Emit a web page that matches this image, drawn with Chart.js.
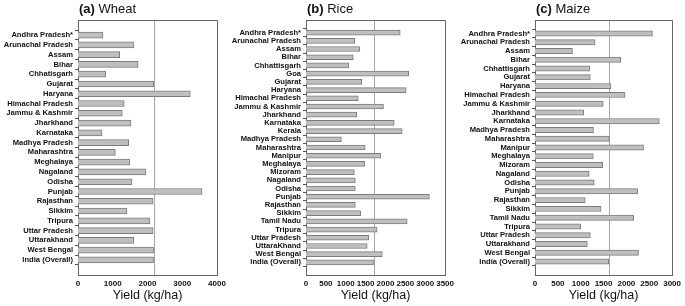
<!DOCTYPE html>
<html>
<head>
<meta charset="utf-8">
<script src="https://cdn.jsdelivr.net/npm/chart.js@4.4.0/dist/chart.umd.min.js"></script>
<style>
  body { margin: 0; background: #ffffff; }
  #wrap { position: relative; width: 685px; height: 306px; }
  canvas { position: absolute; top: 0; }
</style>
</head>
<body>
<div id="wrap">
  <canvas id="wheat" style="left:0px"></canvas>
  <canvas id="rice" style="left:226px"></canvas>
  <canvas id="maize" style="left:455px"></canvas>
</div>
<script>
const wheatStates = ['Andhra Pradesh*', 'Arunachal Pradesh', 'Assam', 'Bihar', 'Chhatisgarh', 'Gujarat',
  'Haryana', 'Himachal Pradesh', 'Jammu & Kashmir', 'Jharkhand', 'Karnataka', 'Madhya Pradesh',
  'Maharashtra', 'Meghalaya', 'Nagaland', 'Odisha', 'Punjab', 'Rajasthan', 'Sikkim', 'Tripura',
  'Uttar Pradesh', 'Uttarakhand', 'West Bengal', 'India (Overall)'];
const wheatYield = [720, 1610, 1200, 1730, 795, 2180, 3230, 1330, 1275, 1525, 690, 1460,
  1075, 1495, 1955, 1555, 3570, 2160, 1410, 2070, 2160, 1610, 2185, 2175];

const riceStates = ['Andhra Pradesh*', 'Arunachal Pradesh', 'Assam', 'Bihar', 'Chhattisgarh', 'Goa',
  'Gujarat', 'Haryana', 'Himachal Pradesh', 'Jammu & Kashmir', 'Jharkhand', 'Karnataka', 'Kerala',
  'Madhya Pradesh', 'Maharashtra', 'Manipur', 'Meghalaya', 'Mizoram', 'Nagaland', 'Odisha', 'Punjab',
  'Rajasthan', 'Sikkim', 'Tamil Nadu', 'Tripura', 'Uttar Pradesh', 'UttaraKhand', 'West Bengal',
  'India (Overall)'];
const riceYield = [2370, 1225, 1355, 1190, 1080, 2585, 1405, 2520, 1315, 1950, 1280, 2220, 2420,
  890, 1490, 1885, 1475, 1215, 1240, 1240, 3105, 1240, 1380, 2545, 1790, 1580, 1540, 1920, 1700];

const maizeStates = ['Andhra Pradesh*', 'Arunachal Pradesh', 'Assam', 'Bihar', 'Chhattisgarh', 'Gujarat',
  'Haryana', 'Himachal Pradesh', 'Jammu & Kashmir', 'Jharkhand', 'Karnataka', 'Madhya Pradesh',
  'Maharashtra', 'Manipur', 'Meghalaya', 'Mizoram', 'Nagaland', 'Odisha', 'Punjab', 'Rajasthan',
  'Sikkim', 'Tamil Nadu', 'Tripura', 'Uttar Pradesh', 'Uttarakhand', 'West Bengal', 'India (Overall)'];
const maizeYield = [2570, 1315, 820, 1875, 1200, 1210, 1660, 1970, 1495, 1065, 2720, 1280,
  1625, 2375, 1275, 1480, 1185, 1295, 2245, 1100, 1445, 2160, 1000, 1210, 1145, 2265, 1615];

const FONT = "'Liberation Sans', Arial, sans-serif";

// linha vertical no valor da India + moldura + titulo do painel
const painelPlugin = {
  id: 'painel',
  beforeDatasetsDraw(chart) {
    const area = chart.chartArea;
    const vals = chart.data.datasets[0].data;
    const x = Math.round(chart.scales.x.getPixelForValue(vals[vals.length - 1].x)) + 0.5;
    const ctx = chart.ctx;
    ctx.save();
    ctx.strokeStyle = '#a6a6a6';
    ctx.lineWidth = 1;
    ctx.beginPath();
    ctx.moveTo(x, area.top);
    ctx.lineTo(x, area.bottom);
    ctx.stroke();
    ctx.restore();
  },
  afterDraw(chart, args, opts) {
    const area = chart.chartArea;
    const ctx = chart.ctx;
    ctx.save();
    ctx.strokeStyle = '#666666';
    ctx.lineWidth = 1;
    ctx.beginPath();
    ctx.moveTo(area.left, Math.round(area.top) + 0.5);
    ctx.lineTo(Math.round(area.right) + 0.5, Math.round(area.top) + 0.5);
    ctx.lineTo(Math.round(area.right) + 0.5, area.bottom);
    ctx.stroke();

    ctx.fillStyle = '#111111';
    ctx.textBaseline = 'middle';
    ctx.font = 'bold 13px ' + FONT;
    const x0 = area.left + 1;
    ctx.fillText(opts.letra + ' ', x0, 9);
    const w = ctx.measureText(opts.letra + ' ').width;
    ctx.font = '13px ' + FONT;
    ctx.fillText(opts.nome, x0 + w, 9);
    ctx.restore();
  }
};

function criarGrafico(id, letra, nome, estados, valores, maxX, passo, larguraCanvas, padDireita, espessura) {
  const canvas = document.getElementById(id);
  canvas.width = larguraCanvas;
  canvas.height = 306;
  canvas.style.width = larguraCanvas + 'px';
  canvas.style.height = '306px';

  return new Chart(canvas.getContext('2d'), {
    type: 'bar',
    data: {
      datasets: [{
        data: valores.map((v, i) => ({ x: v, y: i })),
        backgroundColor: '#bfbfbf',
        borderColor: '#7c7c7c',
        borderWidth: 1,
        barThickness: espessura
      }]
    },
    options: {
      indexAxis: 'y',
      responsive: false,
      animation: false,
      layout: { padding: { top: 20, right: padDireita, bottom: 0, left: 0 } },
      plugins: {
        legend: { display: false },
        tooltip: { enabled: false },
        painel: { letra: letra, nome: nome }
      },
      scales: {
        x: {
          type: 'linear',
          min: 0,
          max: maxX,
          ticks: {
            stepSize: passo,
            color: '#111111',
            padding: 4,
            maxRotation: 0,
            minRotation: 0,
            autoSkip: false,
            font: { family: FONT, size: 8, weight: 'bold' },
            callback: v => String(v)
          },
          grid: { display: false, drawTicks: false },
          border: { display: true, color: '#666666', width: 1 },
          title: {
            display: true,
            text: 'Yield (kg/ha)',
            color: '#111111',
            padding: { top: 0, bottom: 3 },
            font: { family: FONT, size: 12.5 }
          },
          afterFit: s => { s.height = 31; }
        },
        y: {
          type: 'linear',
          reverse: true,
          min: -1,
          max: estados.length,
          afterBuildTicks: s => { s.ticks = estados.map((_, i) => ({ value: i })); },
          ticks: {
            autoSkip: false,
            padding: 2,
            color: '#111111',
            font: { family: FONT, size: 7.6, weight: 'bold' },
            callback: v => estados[v]
          },
          grid: { display: true, drawOnChartArea: false, drawTicks: true, tickLength: 3, color: '#555555' },
          border: { display: true, color: '#666666', width: 1 },
          afterFit: s => { s.width = id === 'wheat' ? 78 : 80; }
        }
      }
    },
    plugins: [painelPlugin]
  });
}

criarGrafico('wheat', '(a)', 'Wheat', wheatStates, wheatYield, 4000, 1000, 230, 13, 6);
criarGrafico('rice', '(b)', 'Rice', riceStates, riceYield, 3500, 500, 232, 12, 5);
criarGrafico('maize', '(c)', 'Maize', maizeStates, maizeYield, 3000, 500, 230, 11, 5.3);
</script>
</body>
</html>
